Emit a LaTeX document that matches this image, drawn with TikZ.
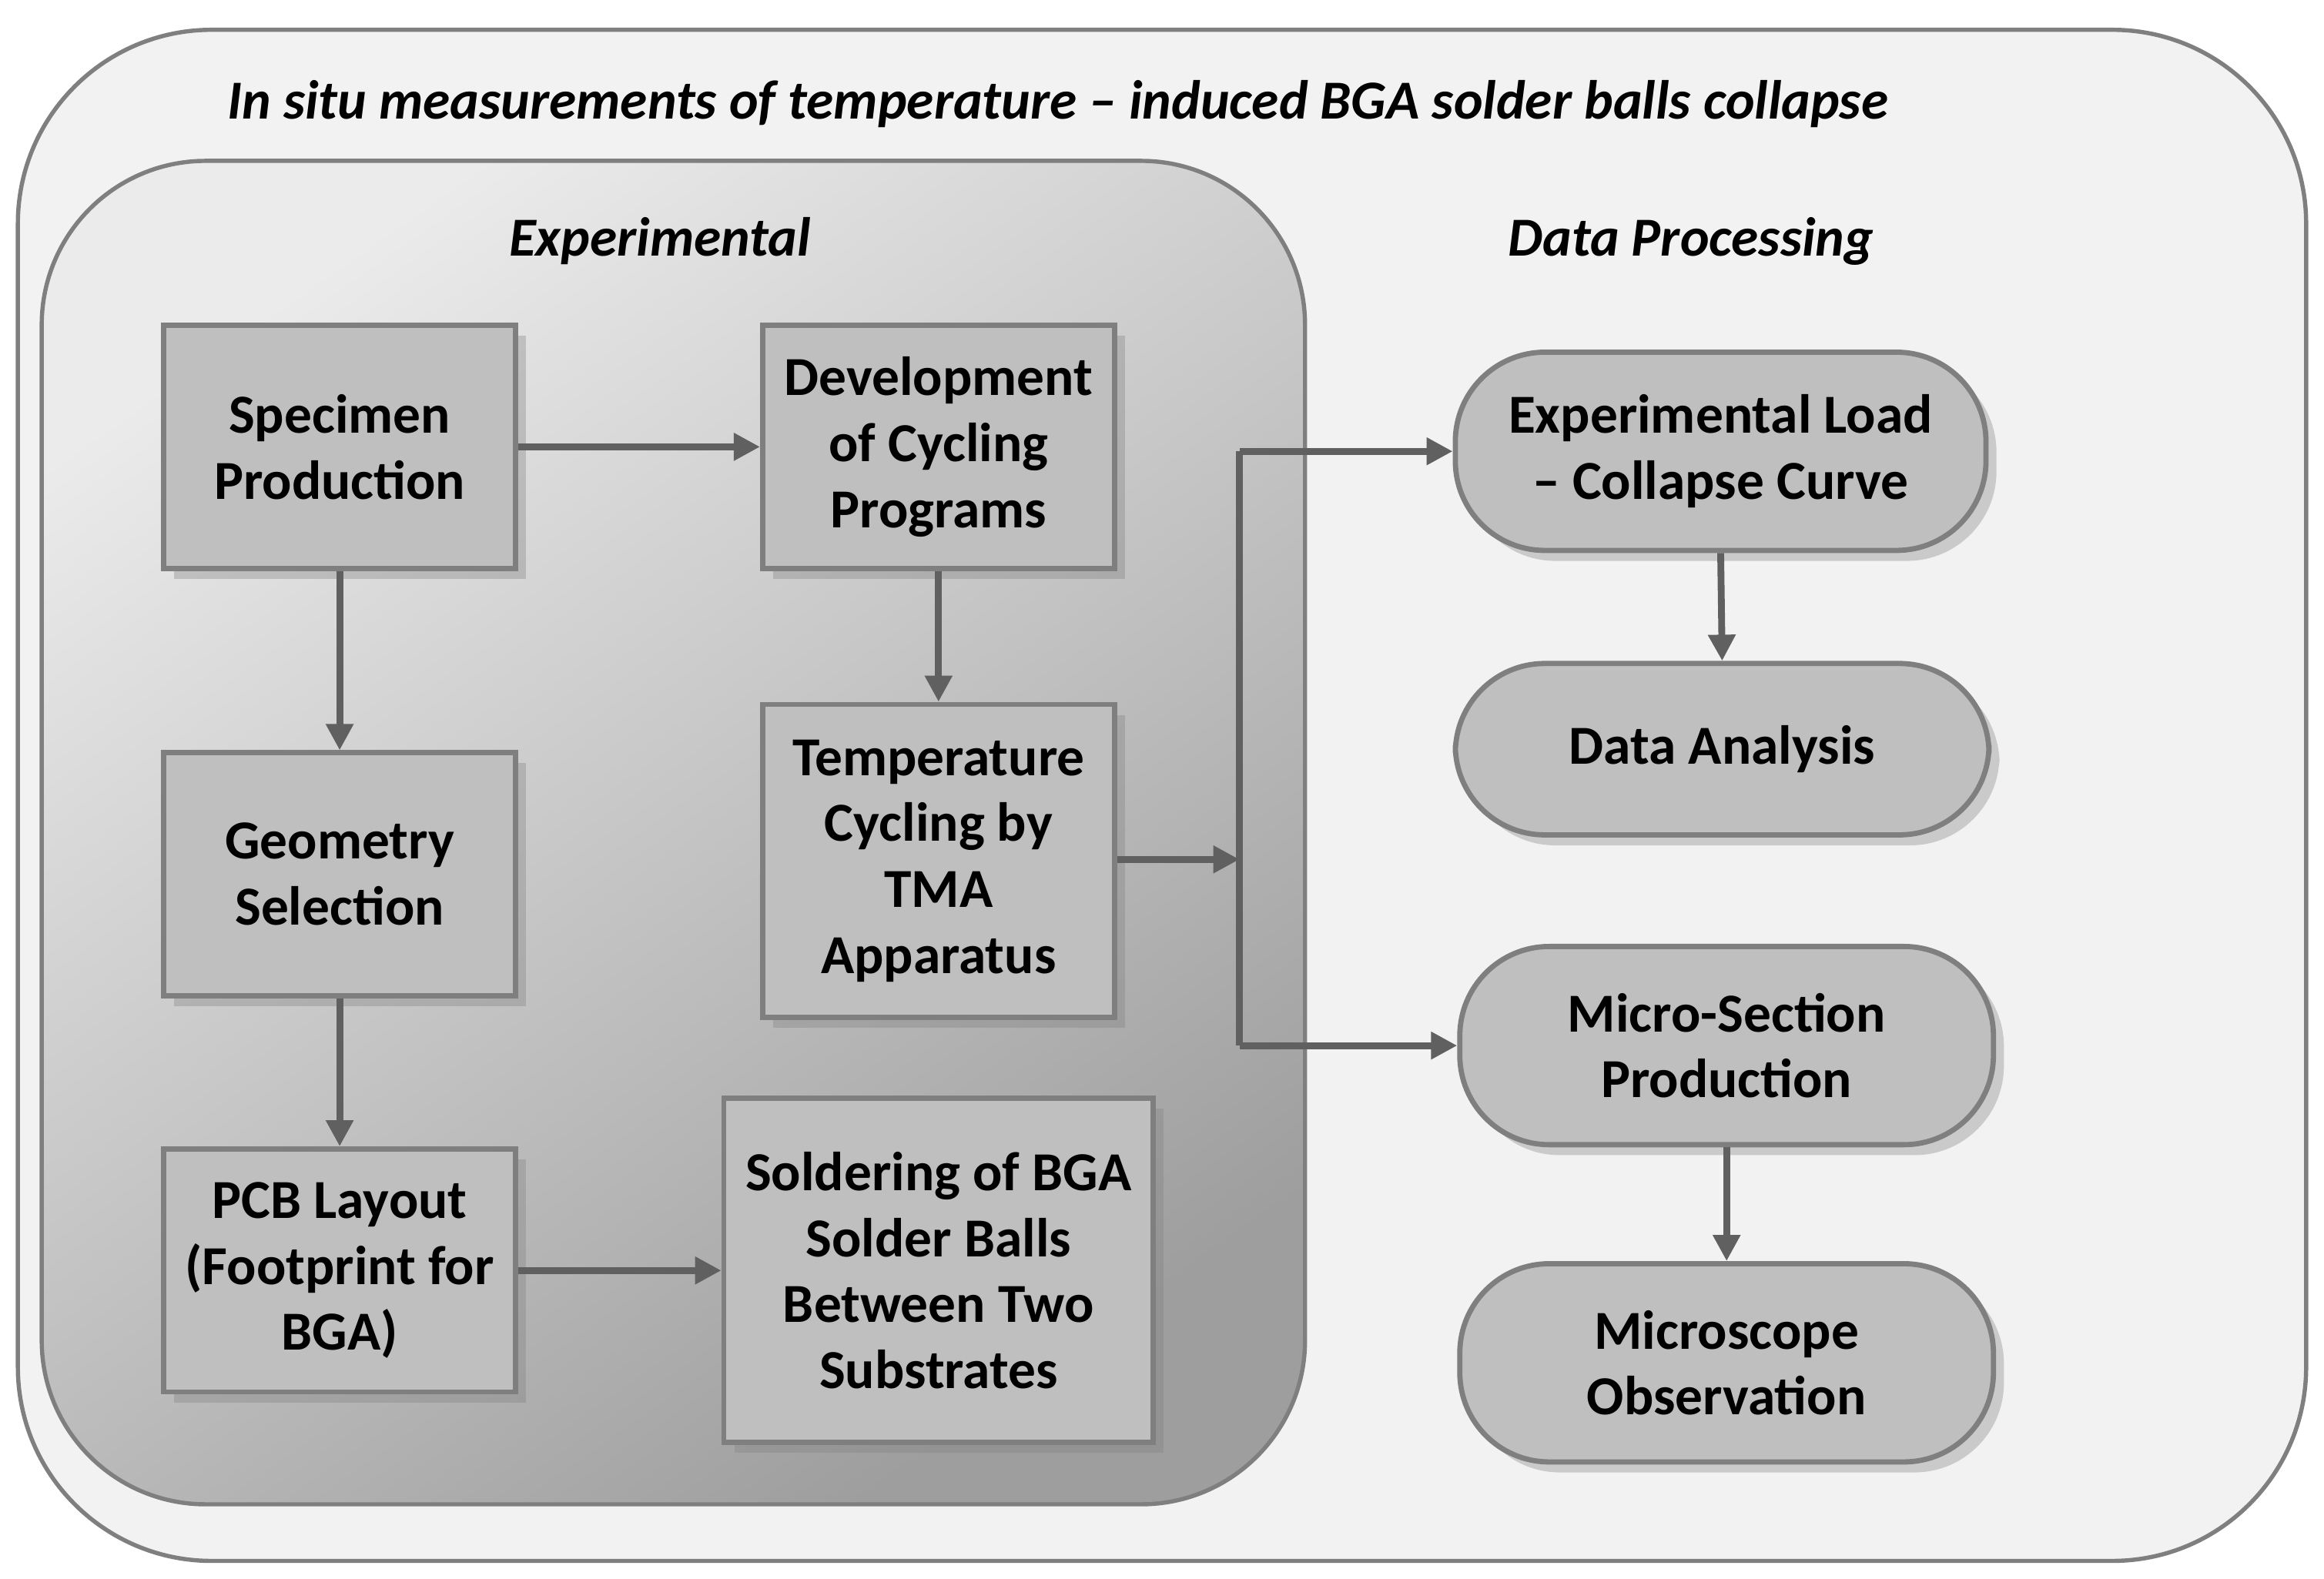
\documentclass[tikz,border=0pt]{standalone}
\usepackage{fontspec}
\setmainfont{Carlito}
\usetikzlibrary{arrows.meta,shadows,calc}
\definecolor{boxf}{HTML}{BFBFBF}
\definecolor{boxd}{HTML}{7F7F7F}
\definecolor{arr}{HTML}{606060}
\begin{document}
\begin{tikzpicture}[x=0.01cm,y=-0.01cm,
  txt/.style={font=\fontsize{10.5}{12.6}\selectfont\bfseries,align=center},
  box/.style={txt,draw=boxd,fill=boxf,line width=1pt,inner sep=0pt,drop shadow={shadow xshift=2pt,shadow yshift=-2pt,opacity=0.35}},
  pill/.style={box,rounded corners=0.6cm},
  ar/.style={draw=arr,line width=1.3pt,-{Triangle[length=5pt,width=5pt]}},
  ln/.style={draw=arr,line width=1.3pt},
  hd/.style={txt,font=\fontsize{10.5}{13}\selectfont\bfseries\itshape}]
\useasboundingbox (0,0) rectangle (1560,1060);
\draw[draw=boxd,fill=black!5,line width=0.8pt,rounded corners=1.3cm] (12,20) rectangle (1548,1048);
\draw[draw=boxd,line width=0.8pt,rounded corners=1.1cm,top color=black!8,bottom color=black!38,shading angle=35] (28,108) rectangle (876,1010);
\node[hd] (title) at (710,70) {In situ measurements of temperature -- induced BGA solder balls collapse};
\node[hd] (exph) at (443,162) {Experimental};
\node[hd] (dph) at (1135,162) {Data Processing};
% rectangles
\node[box,minimum width=2.36cm,minimum height=1.63cm] (spec) at (228,300) {Specimen\\Production};
\node[box,minimum width=2.36cm,minimum height=1.63cm] (dev) at (630,300) {Development\\of Cycling\\Programs};
\node[box,minimum width=2.36cm,minimum height=1.63cm] (geo) at (228,587) {Geometry\\Selection};
\node[box,minimum width=2.36cm,minimum height=2.10cm] (temp) at (630,578) {Temperature\\Cycling by\\TMA\\Apparatus};
\node[box,minimum width=2.36cm,minimum height=1.63cm] (pcb) at (228,853) {PCB Layout\\(Footprint for\\BGA)};
\node[box,minimum width=2.88cm,minimum height=2.31cm] (sold) at (630,853) {Soldering of BGA\\Solder Balls\\Between Two\\Substrates};
% pills
\node[pill,minimum width=3.56cm,minimum height=1.33cm] (load) at (1155,303) {Experimental Load\\-- Collapse Curve};
\node[pill,minimum width=3.58cm,minimum height=1.15cm] (ana) at (1156,503) {Data Analysis};
\node[pill,minimum width=3.58cm,minimum height=1.33cm] (micro) at (1159,702) {Micro-Section\\Production};
\node[pill,minimum width=3.58cm,minimum height=1.33cm] (scope) at (1159,915) {Microscope\\Observation};
% connectors
\coordinate (jt) at (832,303);
\coordinate (jb) at (832,702);
\coordinate (jm) at (832,577);
\draw[ar] (spec.east) -- (dev.west);
\draw[ar] (spec.south) -- (geo.north);
\draw[ar] (geo.south) -- (pcb.north);
\draw[ar] (dev.south) -- (temp.north);
\draw[ar] (pcb.east) -- (pcb.east -| sold.west);
\draw[ar] (temp.east |- jm) -- (jm);
\draw[ln] (jt) -- (jb);
\draw[ar] (jt) -- (load.west);
\draw[ar] (jb) -- (micro.west);
\draw[ar] (load.south) -- (ana.north);
\draw[ar] (micro.south) -- (scope.north);
\end{tikzpicture}
\end{document}
